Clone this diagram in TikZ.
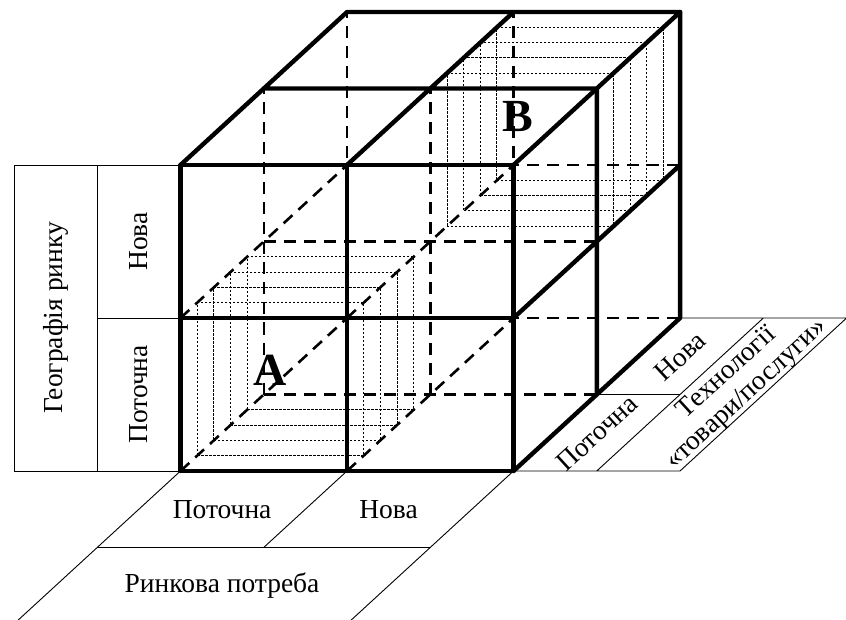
\documentclass[tikz,border=0pt]{standalone}
\usepackage{fontspec}
\setmainfont{Liberation Serif}
\begin{document}
\begin{tikzpicture}[x=1pt,y=-1pt,
  edge/.style={line width=4.4pt, line cap=round, line join=round},
  hidden/.style={line width=2.6pt, dash pattern=on 12pt off 8pt},
  slice/.style={line width=0.9pt, dash pattern=on 2.4pt off 1.6pt},
  grid/.style={line width=0.9pt},
  lab/.style={font=\fontsize{27.5}{29}\selectfont, inner sep=0pt},
  big/.style={font=\fontsize{46}{46}\selectfont\bfseries, inner sep=0pt}]
\useasboundingbox (0,0) rectangle (846,620);
\clip (0,0) rectangle (846,620);
\begin{scope}[shift={(180.5pt,-471pt)}, x={(166.5pt,0pt)}, y={(0pt,153pt)}, z={(83.3pt,76.5pt)}]
  % tables
  \draw[grid] (-1,0,0) rectangle (0,2,0);
  \draw[grid] (-0.5,0,0) -- (-0.5,2,0);
  \draw[grid] (-0.5,1,0) -- (0,1,0);
  \draw[grid] (0,0,0) -- (0,0,-2.2) (2,0,0) -- (2,0,-2.2) (1,0,0) -- (1,0,-1) (0,0,-1) -- (2,0,-1);
  \draw[grid] (2,0,0) -- (3,0,0) (2.5,0,0) -- (2.5,0,2) (3,0,0) -- (3,0,2) (2,0,2) -- (3,0,2) (2,0,1) -- (2.5,0,1);
  % hidden edges
  \draw[hidden] (0,0,1) -- (2,0,1) (0,1,1) -- (2,1,1) (0,0,1) -- (0,2,1) (1,0,1) -- (1,2,1);
  \draw[hidden] (0,0,2) -- (2,0,2) (0,1,2) -- (2,1,2) (0,0,2) -- (0,2,2) (1,0,2) -- (1,2,2);
  \draw[hidden] (0,0,0) -- (0,0,2) (1,0,0) -- (1,0,2) (0,1,0) -- (0,1,2) (1,1,0) -- (1,1,2);
  % slices
  \foreach \k in {0.2,0.4,0.6,0.8}{
    \draw[slice] (0,0,\k) -- (1,0,\k) -- (1,1,\k) -- (0,1,\k) -- cycle;
  }
  \foreach \k in {1.2,1.4,1.6,1.8}{
    \draw[slice] (1,1,\k) -- (2,1,\k) -- (2,2,\k) -- (1,2,\k) -- cycle;
  }
  % visible edges
  \draw[edge] (0,0,0) -- (2,0,0) (0,1,0) -- (2,1,0) (0,2,0) -- (2,2,0)
              (0,0,0) -- (0,2,0) (1,0,0) -- (1,2,0) (2,0,0) -- (2,2,0);
  \draw[edge] (0,2,1) -- (2,2,1) (0,2,2) -- (2,2,2)
              (0,2,0) -- (0,2,2) (1,2,0) -- (1,2,2) (2,2,0) -- (2,2,2);
  \draw[edge] (2,0,1) -- (2,2,1) (2,0,2) -- (2,2,2) (2,1,0) -- (2,1,2) (2,0,0) -- (2,0,2);
  % labels
  \node[lab, rotate=90] (geo) at (-0.75,1,0) {Географія ринку};
  \node[lab, rotate=90] (lnew) at (-0.25,1.5,0) {Нова};
  \node[lab, rotate=90] (lcur) at (-0.25,0.5,0) {Поточна};
  \node[lab] (bcur) at (0.5,0,-0.5) {Поточна};
  \node[lab] (bnew) at (1.5,0,-0.5) {Нова};
  \node[lab] (need) at (1,0,-1.5) {Ринкова потреба};
  \node[lab, rotate=42.56] (rcur) at (2.25,0,0.5) {Поточна};
  \node[lab, rotate=42.56] (rnew) at (2.25,0,1.5) {Нова};
\end{scope}
\node[lab, rotate=42.56, align=center] (tech) at (737,384) {Технології\\«товари/послуги»};
\node[big] (a) at (270,370) {A};
\node[big] (b) at (518,117) {B};
\end{tikzpicture}
\end{document}
